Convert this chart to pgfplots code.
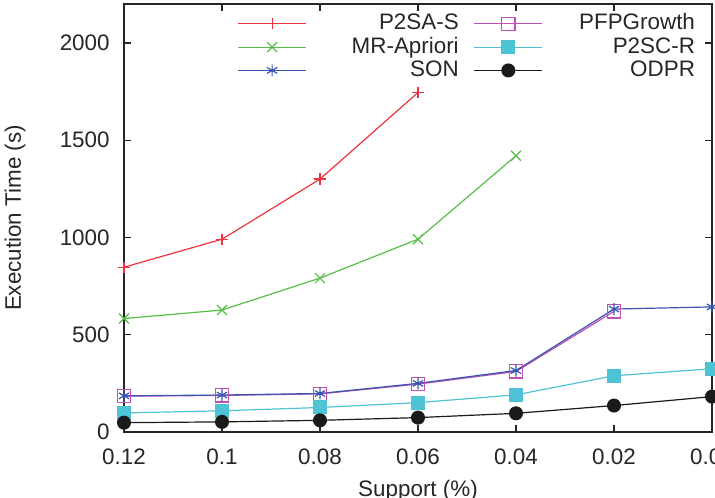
\documentclass[border=0pt]{standalone}
\usepackage{pgfplots}
\pgfplotsset{compat=1.18}
\usepackage{fontspec}
\setmainfont{Liberation Sans}

\definecolor{sasred}{HTML}{EE3340}
\definecolor{mrgreen}{HTML}{55BE45}
\definecolor{sonblue}{HTML}{3A55B0}
\definecolor{pfppink}{HTML}{C050B8}
\definecolor{sccyan}{HTML}{4EC3D6}
\definecolor{odprblack}{HTML}{1A1A1A}

\begin{document}
\begin{tikzpicture}
\begin{axis}[
  scale only axis,
  width=294pt, height=214pt,
  xmin=0, xmax=6, ymin=0, ymax=2200,
  xtick={0,1,2,3,4,5,6},
  xticklabels={0.12,0.1,0.08,0.06,0.04,0.02,0.01},
  ytick={0,500,1000,1500,2000},
  tick align=inside,
  major tick length=3.5pt,
  axis line style={line width=0.6pt, black!85},
  every tick/.style={black!85, line width=0.6pt},
  font=\fontsize{11.2pt}{13pt}\selectfont,
  /pgf/number format/assume math mode=true,
  /pgf/number format/1000 sep={},
  yticklabel style={anchor=east, inner sep=0pt, xshift=-7pt, text=black!85},
  xticklabel style={anchor=base, inner sep=0pt, yshift=-16pt, text=black!85},
  xlabel={Support (\%)},
  ylabel={Execution Time (s)},
  xlabel style={at={([yshift=-32pt]axis description cs:0.5,0)}, anchor=base, inner sep=0pt, text=black!85},
  ylabel style={at={([xshift=-54.5pt]axis description cs:0,0.5)}, anchor=center, inner sep=0pt, text=black!85},
  clip=false,
  legend columns=2,
  legend image code/.code={\draw[mark repeat=2,mark phase=2] plot coordinates {(0pt,0pt)(17pt,0pt)(34pt,0pt)};},
  legend style={at={(rel axis cs:0.971,0.977)}, anchor=north east,
    draw=none, fill=none, inner sep=0pt, outer sep=0pt,
    row sep=1.65pt, column sep=4pt,
    nodes={inner sep=0pt, text height=8pt, text depth=2pt, text=black!85},
    /tikz/every even column/.append style={column sep=7.5pt, text width=72pt, align=right}},
  every axis plot/.append style={line width=0.6pt},
]
% P2SA-S
\addplot[color=sasred, mark=+, mark size=2.8pt] coordinates {
  (0,847) (1,991) (2,1300) (3,1745)};
\addlegendentry{P2SA-S}
% PFPGrowth
\addplot[color=pfppink, mark=square, mark size=3.3pt] coordinates {
  (0,184) (1,188) (2,196) (3,246) (4,311) (5,620)};
\addlegendentry{PFPGrowth}
% MR-Apriori
\addplot[color=mrgreen, mark=x, mark size=3.5pt] coordinates {
  (0,583) (1,627) (2,791) (3,991) (4,1420)};
\addlegendentry{MR-Apriori}
% P2SC-R
\addplot[color=sccyan, mark=square*, mark size=3.2pt] coordinates {
  (0,98) (1,109) (2,126) (3,151) (4,191) (5,289) (6,325)};
\addlegendentry{P2SC-R}
% SON
\addplot[color=sonblue, mark=asterisk, mark size=3pt] coordinates {
  (0,186) (1,190) (2,198) (3,250) (4,316) (5,632) (6,643)};
\addlegendentry{SON}
% ODPR
\addplot[color=odprblack, mark=*, mark size=3.2pt] coordinates {
  (0,48) (1,52) (2,60) (3,74) (4,96) (5,136) (6,182)};
\addlegendentry{ODPR}
\end{axis}
\pgfresetboundingbox
\path ([xshift=-62pt,yshift=-32.5pt]current axis.south west)
  rectangle ([xshift=1.5pt,yshift=2pt]current axis.north east);
\end{tikzpicture}
\end{document}
